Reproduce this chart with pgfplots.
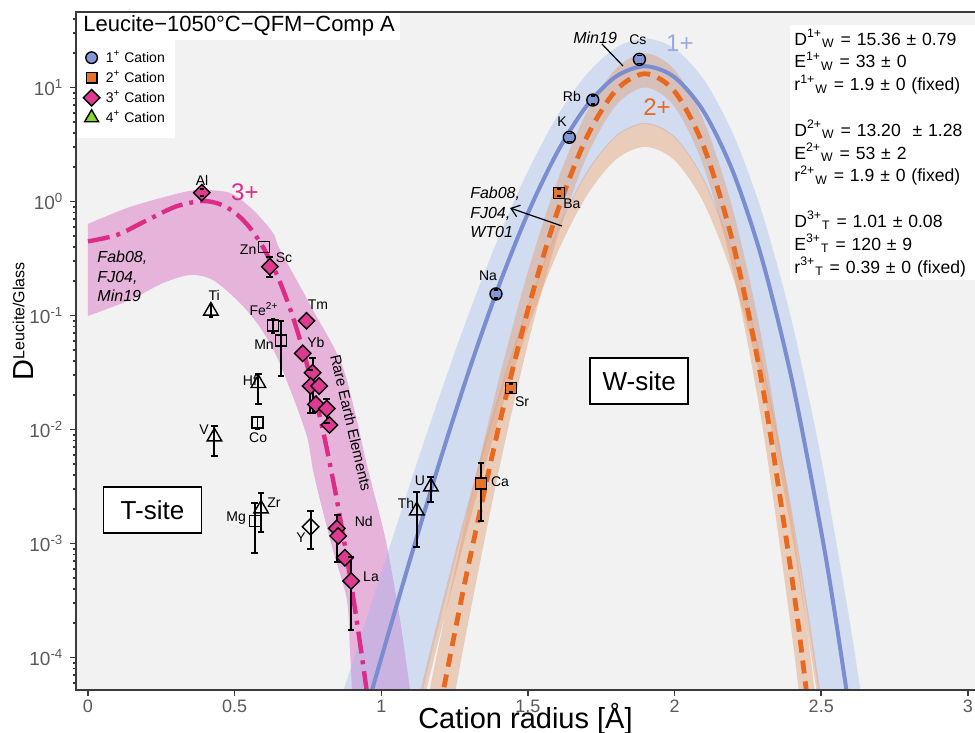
\documentclass[border=0pt]{standalone}
\usepackage{fontspec}
\setmainfont{Liberation Sans}
\usepackage{pgfplots}
\pgfplotsset{compat=1.18}
\usepgfplotslibrary{fillbetween}
\usetikzlibrary{arrows.meta}
\definecolor{bg}{HTML}{F1F2F1}
\definecolor{axgray}{HTML}{3A3A3A}
\definecolor{tickgray}{HTML}{5A5A5A}
\definecolor{c1}{HTML}{8397D6}
\definecolor{c1line}{HTML}{7A8DD0}
\definecolor{c1lab}{HTML}{9AAAE0}
\definecolor{c2}{HTML}{E8732B}
\definecolor{c2line}{HTML}{E8691E}
\definecolor{c3}{HTML}{DE3A92}
\definecolor{c3line}{HTML}{DD2C88}
\definecolor{c4}{HTML}{86D62B}
\definecolor{bblue}{HTML}{8FB0F0}
\definecolor{btan}{HTML}{E0956A}
\definecolor{bpink}{HTML}{DA68C0}
\begin{document}
\begin{tikzpicture}
\begin{axis}[
 scale only axis, width=449.5pt, height=339pt,
 xmin=-0.0409, xmax=3.0242, ymin=-4.285, ymax=1.6623,
 axis background/.style={fill=bg},
 axis line style={draw=none},
 xtick={0,0.5,1,1.5,2,2.5,3},
 xticklabels={0,0.5,1,1.5,2,2.5,3},
 ytick={-4,-3,-2,-1,0,1},
 yticklabels={10\textsuperscript{-4},10\textsuperscript{-3},10\textsuperscript{-2},10\textsuperscript{-1},10\textsuperscript{0},10\textsuperscript{1}},
 minor ytick={-4.22185,-4.1549,-4.09691,-4.04576,-3.69897,-3.52288,-3.39794,-3.30103,-3.22185,-3.1549,-3.09691,-3.04576,-2.69897,-2.52288,-2.39794,-2.30103,-2.22185,-2.1549,-2.09691,-2.04576,-1.69897,-1.52288,-1.39794,-1.30103,-1.22185,-1.1549,-1.09691,-1.04576,-0.69897,-0.52288,-0.39794,-0.30103,-0.22185,-0.1549,-0.09691,-0.04576,0.30103,0.47712,0.60206,0.69897,0.77815,0.8451,0.90309,0.95424,1.30103,1.47712,1.60206},
 xtick pos=bottom, ytick pos=left,
 tick align=outside,
 major tick length=2.8pt, minor tick length=1.6pt,
 tick style={axgray, line width=0.8pt},
 xticklabel style={font=\fontsize{9}{9}\selectfont, text=tickgray, yshift=1.5pt},
 yticklabel style={font=\fontsize{9.5}{9.5}\selectfont, text=tickgray},
 xlabel={Cation radius [Å]},
 xlabel style={font=\fontsize{14.5}{14.5}\selectfont, at={(axis description cs:0.5,-0.043)}, anchor=center},
 ylabel={D\raisebox{4.5pt}{\fontsize{8}{8}\selectfont Leucite/Glass}},
 ylabel style={font=\fontsize{14.5}{14.5}\selectfont, at={(axis description cs:-0.059,0.544)}, anchor=center},
 legend image code/.code={\draw[#1] plot coordinates {(0pt,0pt)};},
 legend style={at={(0.0078,0.9500)}, anchor=north west, draw=none, fill=none, inner sep=0pt, row sep=-1.4pt, font=\fontsize{7}{7}\selectfont, cells={anchor=west}, /tikz/every odd column/.append style={column sep=1pt}},
 legend cell align=left,
]
\addlegendimage{mark=*, mark size=2.9pt, mark options={fill=c1, draw=black, line width=0.7pt}}
\addlegendentry{1\textsuperscript{+} Cation}
\addlegendimage{mark=square*, mark size=2.6pt, mark options={fill=c2, draw=black, line width=0.7pt}}
\addlegendentry{2\textsuperscript{+} Cation}
\addlegendimage{mark=square*, mark size=2.9pt, mark options={rotate=45, fill=c3, draw=black, line width=0.7pt}}
\addlegendentry{3\textsuperscript{+} Cation}
\addlegendimage{mark=triangle*, mark size=4pt, mark options={fill=c4, draw=black, line width=0.7pt}}
\addlegendentry{4\textsuperscript{+} Cation}

% ---- pink band (Fab08, FJ04, Min19)
\addplot[name path=pu, draw=none, smooth, forget plot] coordinates {(0,-0.197)(0.143,-0.048)(0.314,0.075)(0.382,0.101)(0.484,0.075)(0.563,-0.075)(0.631,-0.276)(0.655,-0.425)(0.767,-0.952)(0.872,-1.478)(0.955,-2.355)(1.015,-2.969)(1.064,-3.671)(1.098,-4.285)(1.11,-4.5)};
\addplot[name path=pl, draw=none, smooth, forget plot] coordinates {(0,-1.004)(0.143,-0.864)(0.256,-0.715)(0.348,-0.645)(0.426,-0.689)(0.518,-0.890)(0.586,-1.101)(0.644,-1.364)(0.699,-1.715)(0.747,-2.066)(0.767,-2.355)(0.791,-2.618)(0.835,-3.057)(0.883,-3.496)(0.893,-3.934)(0.900,-4.285)(0.905,-4.5)};
\addplot[fill=bpink, fill opacity=0.45, draw=none, forget plot] fill between[of=pu and pl];
% ---- blue band (Min19)
\addplot[name path=bu, draw=none, smooth, forget plot] coordinates {(0.85,-4.457)(0.9,-4.058)(0.95,-3.657)(1.0,-3.256)(1.1,-2.462)(1.2,-1.696)(1.3,-0.973)(1.4,-0.313)(1.5,0.267)(1.6,0.749)(1.7,1.116)(1.8,1.348)(1.9,1.43)(2.0,1.342)(2.1,1.068)(2.2,0.589)(2.3,-0.112)(2.4,-1.055)(2.5,-2.255)(2.6,-3.730)(2.65,-4.578)};
\addplot[name path=bl, draw=none, smooth, forget plot] coordinates {(1.1,-4.743)(1.15,-4.203)(1.2,-3.675)(1.3,-2.668)(1.4,-1.748)(1.5,-0.941)(1.6,-0.269)(1.7,0.242)(1.8,0.566)(1.9,0.68)(2.0,0.558)(2.1,0.176)(2.2,-0.492)(2.3,-1.469)(2.4,-2.782)(2.5,-4.454)(2.55,-5.432)};
\addplot[fill=bblue, fill opacity=0.32, draw=none, forget plot] fill between[of=bu and bl];
% ---- wide tan band (Fab08, FJ04, WT01)
\addplot[name path=wu, draw=none, smooth, forget plot] coordinates {(1.1,-4.645)(1.15,-4.114)(1.2,-3.595)(1.3,-2.604)(1.4,-1.699)(1.5,-0.905)(1.6,-0.243)(1.7,0.259)(1.8,0.578)(1.9,0.69)(2.0,0.570)(2.1,0.194)(2.2,-0.463)(2.3,-1.424)(2.4,-2.716)(2.5,-4.361)(2.55,-5.323)};
\addplot[name path=wl, draw=none, smooth, forget plot] coordinates {(1.1,-4.855)(1.15,-4.324)(1.2,-3.805)(1.3,-2.814)(1.4,-1.909)(1.5,-1.115)(1.6,-0.453)(1.7,0.049)(1.8,0.368)(1.9,0.48)(2.0,0.360)(2.1,-0.016)(2.2,-0.673)(2.3,-1.634)(2.4,-2.926)(2.5,-4.571)(2.55,-5.533)};
\addplot[fill=btan, fill opacity=0.4, draw=none, forget plot] fill between[of=wu and wl];
% ---- narrow tan band around 2+ fit
\addplot[name path=tu, draw=none, smooth, forget plot] coordinates {(1.15,-4.469)(1.2,-3.845)(1.3,-2.656)(1.4,-1.568)(1.5,-0.615)(1.6,0.179)(1.7,0.782)(1.8,1.166)(1.9,1.30)(2.0,1.156)(2.1,0.704)(2.2,-0.084)(2.3,-1.239)(2.4,-2.790)(2.45,-3.722)(2.5,-4.765)};
\addplot[name path=tl, draw=none, smooth, forget plot] coordinates {(1.2,-5.041)(1.25,-4.330)(1.3,-3.644)(1.4,-2.368)(1.5,-1.248)(1.6,-0.316)(1.7,0.392)(1.8,0.842)(1.9,1.0)(2.0,0.831)(2.1,0.300)(2.2,-0.625)(2.3,-1.981)(2.4,-3.802)(2.45,-4.896)};
\addplot[fill=btan, fill opacity=0.4, draw=none, forget plot] fill between[of=tu and tl];

% ---- fitted curves
\addplot[c3line, line width=2.2pt, dash pattern=on 11pt off 3.5pt on 2pt off 3.5pt, smooth, forget plot] coordinates {(0,-0.350)(0.1,-0.292)(0.2,-0.166)(0.3,-0.0436)(0.39,0.0043)(0.45,-0.0235)(0.5,-0.0962)(0.55,-0.2237)(0.6,-0.4148)(0.65,-0.6786)(0.7,-1.024)(0.75,-1.460)(0.8,-1.995)(0.85,-2.639)(0.9,-3.400)(0.95,-4.288)(1.0,-5.311)};
\addplot[c1line, line width=2pt, smooth, forget plot] coordinates {(0.95,-4.450)(1.0,-4.005)(1.1,-3.125)(1.2,-2.276)(1.3,-1.476)(1.4,-0.745)(1.5,-0.102)(1.6,0.432)(1.7,0.838)(1.8,1.096)(1.9,1.1864)(2.0,1.0894)(2.1,0.7854)(2.2,0.2546)(2.3,-0.5226)(2.4,-1.566)(2.5,-2.896)(2.55,-3.674)(2.6,-4.531)};
\addplot[c2line, line width=2.4pt, dash pattern=on 6.5pt off 4pt, smooth, forget plot] coordinates {(1.2,-4.442)(1.25,-3.788)(1.3,-3.156)(1.4,-1.981)(1.5,-0.950)(1.6,-0.091)(1.7,0.561)(1.8,0.975)(1.9,1.1206)(2.0,0.9648)(2.1,0.4764)(2.2,-0.376)(2.3,-1.624)(2.4,-3.302)(2.45,-4.310)(2.5,-5.437)};

% ---- markers
\addplot[only marks, mark=*, mark size=3pt, mark options={fill=c1, draw=black, line width=0.7pt}, forget plot] coordinates {(1.391,-0.811)(1.641,0.563)(1.721,0.890)(1.880,1.247)};
\addplot[only marks, mark=square*, mark size=2.75pt, mark options={fill=c2, draw=black, line width=0.7pt}, forget plot] coordinates {(1.606,0.077)(1.442,-1.636)(1.340,-2.472)};
\addplot[only marks, mark=square, mark size=2.75pt, mark options={draw=black, line width=0.7pt}, forget plot] coordinates {(0.600,-0.400)(0.630,-1.086)(0.658,-1.221)(0.578,-1.940)(0.569,-2.803)};
\addplot[only marks, mark=square*, mark size=2.9pt, mark options={rotate=45, fill=c3, draw=black, line width=0.7pt}, forget plot] coordinates {(0.388,0.077)(0.620,-0.572)(0.745,-1.046)(0.732,-1.332)(0.766,-1.502)(0.759,-1.618)(0.788,-1.618)(0.777,-1.779)(0.814,-1.817)(0.823,-1.960)(0.848,-2.867)(0.853,-2.934)(0.876,-3.125)(0.897,-3.329)};
\addplot[only marks, mark=square, mark size=2.9pt, mark options={rotate=45, draw=black, line width=0.7pt}, forget plot] coordinates {(0.759,-2.853)};
\addplot[only marks, mark=triangle, mark size=4.2pt, mark options={draw=black, line width=0.7pt}, forget plot] coordinates {(0.419,-0.960)(0.581,-1.595)(0.431,-2.063)(0.590,-2.695)(1.121,-2.712)(1.169,-2.502)};

% ---- error bars (long)
\addplot[black, line width=1pt, mark=-, mark size=1.7pt, mark options={line width=1pt}, unbounded coords=jump, forget plot] coordinates {
(0.620,-0.665)(0.620,-0.489)(0.620,nan)
(0.658,-1.531)(0.658,-1.046)(0.658,nan)
(0.766,-1.853)(0.766,-1.375)(0.766,nan)
(0.757,-1.853)(0.757,-1.478)(0.757,nan)
(0.814,-1.943)(0.814,-1.732)(0.814,nan)
(0.581,-1.776)(0.581,-1.513)(0.581,nan)
(0.431,-2.232)(0.431,-1.969)(0.431,nan)
(0.569,-3.081)(0.569,-2.642)(0.569,nan)
(0.590,-2.896)(0.590,-2.560)(0.590,nan)
(0.759,-3.051)(0.759,-2.715)(0.759,nan)
(0.850,-3.160)(0.850,-2.750)(0.850,nan)
(0.897,-3.759)(0.897,-3.121)(0.897,nan)
(1.169,-2.633)(1.169,-2.414)(1.169,nan)
(1.121,-3.028)(1.121,-2.546)(1.121,nan)
(1.340,-2.800)(1.340,-2.296)};
% ---- error bars (short, inside markers)
\addplot[black, line width=0.8pt, mark=-, mark size=1.1pt, mark options={line width=0.8pt}, unbounded coords=jump, forget plot] coordinates {
(0.388,0.047)(0.388,0.107)(0.388,nan)
(0.419,-1.011)(0.419,-0.908)(0.419,nan)
(0.630,-1.151)(0.630,-1.031)(0.630,nan)
(0.578,-1.998)(0.578,-1.893)(0.578,nan)
(1.442,-1.671)(1.442,-1.601)(1.442,nan)
(1.606,0.047)(1.606,0.107)(1.606,nan)
(1.391,-0.846)(1.391,-0.776)(1.391,nan)
(1.641,0.528)(1.641,0.598)(1.641,nan)
(1.721,0.855)(1.721,0.925)(1.721,nan)
(1.880,1.212)(1.880,1.282)};

% ---- element labels
\tikzset{lab/.style={font=\fontsize{7}{7}\selectfont, inner sep=0pt}}
\node[lab] at (axis cs:0.389,0.189) {Al};
\node[lab] at (axis cs:0.546,-0.425) {Zn};
\node[lab] at (axis cs:0.668,-0.496) {Sc};
\node[lab] at (axis cs:0.430,-0.820) {Ti};
\node[lab] at (axis cs:0.600,-0.943) {Fe\textsuperscript{2+}};
\node[lab] at (axis cs:0.600,-1.259) {Mn};
\node[lab] at (axis cs:0.784,-0.908) {Tm};
\node[lab] at (axis cs:0.777,-1.241) {Yb};
\node[lab] at (axis cs:0.552,-1.566) {Hf};
\node[lab] at (axis cs:0.580,-2.075) {Co};
\node[lab] at (axis cs:0.396,-2.004) {V};
\node[lab] at (axis cs:0.505,-2.776) {Mg};
\node[lab] at (axis cs:0.634,-2.645) {Zr};
\node[lab] at (axis cs:0.726,-2.952) {Y};
\node[lab] at (axis cs:0.940,-2.803) {Nd};
\node[lab] at (axis cs:0.965,-3.294) {La};
\node[lab] at (axis cs:1.084,-2.645) {Th};
\node[lab] at (axis cs:1.132,-2.452) {U};
\node[lab] at (axis cs:1.405,-2.461) {Ca};
\node[lab] at (axis cs:1.480,-1.759) {Sr};
\node[lab] at (axis cs:1.650,-0.022) {Ba};
\node[lab] at (axis cs:1.364,-0.654) {Na};
\node[lab] at (axis cs:1.616,0.697) {K};
\node[lab] at (axis cs:1.650,0.917) {Rb};
\node[lab] at (axis cs:1.875,1.417) {Cs};
\node[font=\fontsize{12}{12}\selectfont, text=c3line, inner sep=0pt] at (axis cs:0.535,0.083) {3+};
\node[font=\fontsize{12}{12}\selectfont, text=c1lab, inner sep=0pt] at (axis cs:2.018,1.39) {1+};
\node[font=\fontsize{12}{12}\selectfont, text=c2line, inner sep=0pt] at (axis cs:1.940,0.829) {2+};
\node[font=\fontsize{7.5}{7.5}\selectfont, rotate=-77, inner sep=0pt] at (axis cs:0.897,-1.94) {Rare Earth Elements};
% references
\node[font=\fontsize{8}{9.75}\selectfont\itshape, align=left, anchor=north west, inner sep=0pt] at (axis cs:0.031,-0.434) {Fab08,\\FJ04,\\Min19};
\node[font=\fontsize{8}{9.75}\selectfont\itshape, align=left, anchor=north west, inner sep=0pt] at (axis cs:1.302,0.13) {Fab08,\\FJ04,\\WT01};
\node[font=\fontsize{8}{8}\selectfont\itshape, inner sep=0pt] at (axis cs:1.729,1.434) {Min19};
\draw[black, line width=0.6pt] (axis cs:1.752,1.382) -- (axis cs:1.824,1.189);
\draw[black, line width=0.6pt, {Straight Barb[length=4pt,width=6pt]}-] (axis cs:1.439,-0.057) -- (axis cs:1.616,-0.215);
% site boxes
\node[draw=black, fill=white, line width=0.8pt, minimum width=49pt, minimum height=23pt, inner sep=0pt, font=\fontsize{13}{13}\selectfont] at (axis cs:1.879,-1.575) {W-site};
\node[draw=black, fill=white, line width=0.8pt, minimum width=49pt, minimum height=23pt, inner sep=0pt, font=\fontsize{13}{13}\selectfont] at (axis cs:0.2199,-2.706) {T-site};
% title and legend boxes
\fill[white] (rel axis cs:0,0.9587) rectangle (rel axis cs:0.3604,1);
\fill[white] (rel axis cs:0,0.8142) rectangle (rel axis cs:0.1101,0.9587);
\node[anchor=west, font=\fontsize{11}{11}\selectfont, inner sep=0pt] at (rel axis cs:0.0078,0.9794) {Leucite−1050°C−QFM−Comp A};
% parameter panel
\node[anchor=north west, fill=white, inner xsep=2pt, inner ysep=0pt, minimum width=92.5pt, minimum height=127.5pt, text width=90pt, align=left, font=\fontsize{8.8}{11.4}\selectfont] at (rel axis cs:0.7942,0.9808) {%
D\textsuperscript{1+}\textsubscript{W} = 15.36 ± 0.79\\
E\textsuperscript{1+}\textsubscript{W} = 33 ± 0\\
r\textsuperscript{1+}\textsubscript{W} = 1.9 ± 0 (fixed)\\[11.4pt]
D\textsuperscript{2+}\textsubscript{W} = 13.20~ ± 1.28\\
E\textsuperscript{2+}\textsubscript{W} = 53 ± 2\\
r\textsuperscript{2+}\textsubscript{W} = 1.9 ± 0 (fixed)\\[11.4pt]
D\textsuperscript{3+}\textsubscript{T} = 1.01 ± 0.08\\
E\textsuperscript{3+}\textsubscript{T} = 120 ± 9\\
r\textsuperscript{3+}\textsubscript{T} = 0.39 ± 0 (fixed)};
\coordinate (BL) at (rel axis cs:0,0);
\coordinate (BR) at (rel axis cs:1,0);
\coordinate (TL) at (rel axis cs:0,1);
\coordinate (TR) at (rel axis cs:1,1);
\end{axis}
\draw[axgray, line width=1.1pt] (BR) -- (BL) -- (TL) -- (TR);
\pgfresetboundingbox
\path (BL) ++(-38pt,-21.5pt) rectangle ++(487.5pt,366.5pt);
\end{tikzpicture}
\end{document}
